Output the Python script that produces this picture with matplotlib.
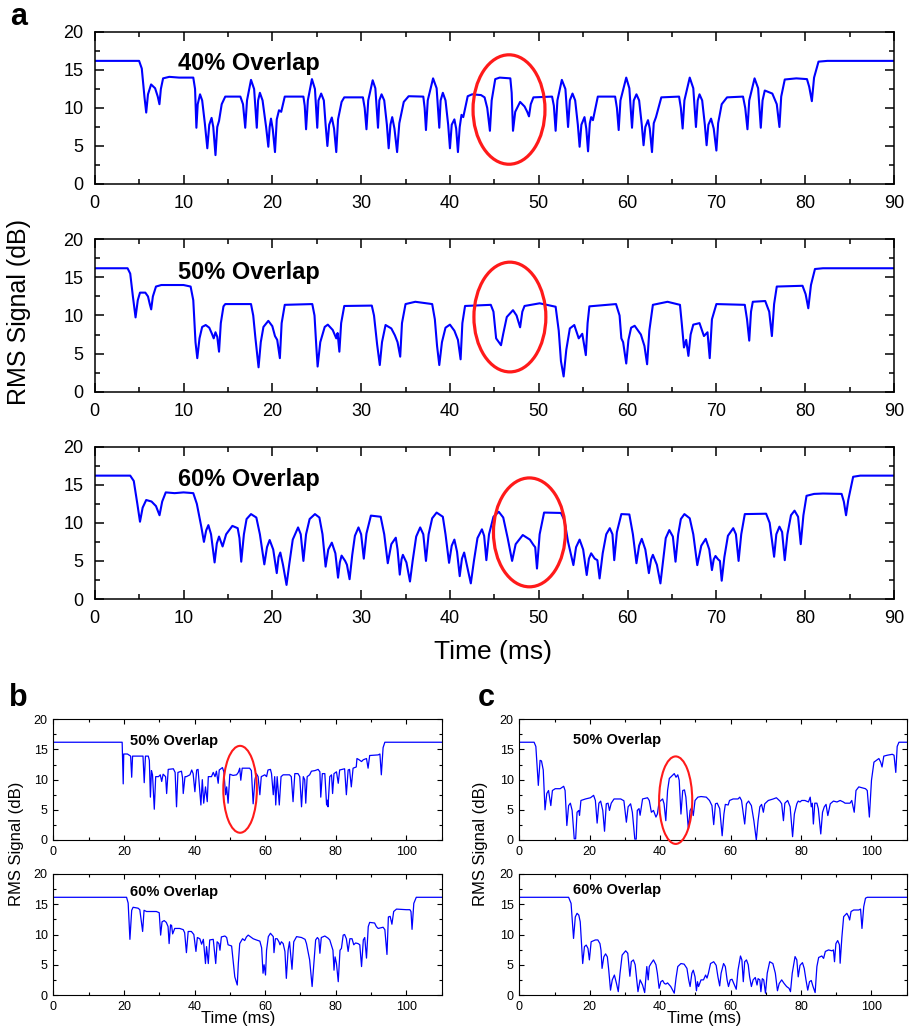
import numpy as np
import matplotlib
matplotlib.use('Agg')
from matplotlib import pyplot as plt
from matplotlib.patches import Ellipse
from matplotlib.ticker import MultipleLocator


# (time ms, RMS dB)
a40_points = [
    (0, 16.2), (5.0, 16.2), (5.3, 15.2), (5.6, 11.5), (5.8, 9.4), (6.0, 11.8), (6.35, 13.1), (6.8, 12.6),
    (7.1, 11.5), (7.29, 10.5), (7.45, 12.5), (7.7, 13.9), (8.4, 14.1), (9.5, 14.0), (11.1, 14.0), (11.3, 12.5),
    (11.45, 7.4), (11.6, 10.5), (11.86, 11.8), (12.1, 11.0), (12.4, 8.0), (12.68, 4.7), (12.9, 7.8), (13.16, 8.7),
    (13.35, 7.5), (13.6, 3.8), (13.8, 7.5), (14.0, 8.3), (14.3, 10.5), (14.7, 11.5), (16.4, 11.5), (16.7, 10.5),
    (16.95, 7.4), (17.15, 11.0), (17.6, 13.7), (17.95, 12.5), (18.25, 7.4), (18.4, 11.0), (18.6, 12.0), (18.9, 11.0),
    (19.3, 7.5), (19.55, 4.9), (19.7, 7.5), (19.85, 8.6), (20.05, 7.2), (20.3, 4.2), (20.5, 8.5), (20.75, 9.7),
    (21.0, 9.5), (21.4, 11.5), (23.5, 11.5), (23.65, 10.3), (23.8, 7.2), (24.0, 11.0), (24.46, 13.8), (24.8, 12.5),
    (25.06, 7.4), (25.2, 11.0), (25.5, 11.9), (25.8, 11.0), (26.0, 7.8), (26.2, 5.0), (26.4, 7.8), (26.7, 8.75),
    (26.95, 7.3), (27.2, 4.2), (27.4, 8.5), (27.8, 10.8), (28.1, 11.4), (30.2, 11.4), (30.4, 10.0), (30.6, 7.2),
    (30.8, 11.0), (31.3, 13.65), (31.6, 12.6), (31.9, 7.4), (32.05, 11.0), (32.3, 11.8), (32.6, 11.0), (32.9, 7.8),
    (33.1, 4.7), (33.3, 7.8), (33.5, 8.8), (33.75, 7.3), (34.05, 4.2), (34.3, 8.0), (34.8, 10.8), (35.35, 11.55),
    (37.0, 11.5), (37.15, 10.0), (37.3, 7.1), (37.5, 11.0), (38.1, 13.9), (38.5, 12.6), (38.8, 7.4), (38.95, 11.0),
    (39.2, 12.0), (39.5, 11.0), (39.8, 7.8), (40.0, 4.7), (40.2, 7.8), (40.5, 8.5), (40.7, 7.3), (40.9, 4.2),
    (41.1, 7.5), (41.3, 9.1), (41.5, 8.8), (42.0, 11.55), (42.5, 11.8), (43.5, 11.7), (43.9, 11.4), (44.2, 10.0),
    (44.5, 7.0), (44.7, 11.0), (45.1, 13.8), (45.6, 14.0), (46.8, 13.9), (46.95, 12.0), (47.1, 7.0), (47.35, 9.5),
    (47.9, 10.8), (48.4, 10.2), (48.7, 9.5), (48.9, 8.9), (49.1, 10.5), (49.4, 11.4), (51.5, 11.5), (51.7, 10.3),
    (51.9, 7.0), (52.1, 11.0), (52.6, 13.7), (53.0, 12.5), (53.3, 7.5), (53.5, 11.0), (53.8, 11.9), (54.1, 11.0),
    (54.4, 7.8), (54.6, 4.9), (54.8, 7.8), (55.15, 8.8), (55.35, 7.3), (55.55, 4.3), (55.75, 8.0), (55.9, 8.8),
    (56.1, 8.4), (56.65, 11.5), (58.6, 11.5), (58.8, 10.0), (59.0, 7.1), (59.2, 11.0), (59.85, 14.0), (60.2, 12.6),
    (60.5, 7.4), (60.7, 11.0), (61.0, 11.8), (61.3, 11.0), (61.6, 7.8), (61.8, 5.1), (62.0, 7.5), (62.3, 8.4),
    (62.5, 7.3), (62.75, 4.2), (62.95, 8.0), (63.2, 8.8), (63.8, 11.4), (65.8, 11.5), (66.0, 10.0), (66.2, 7.3),
    (66.4, 11.0), (67.0, 14.0), (67.4, 12.6), (67.7, 7.5), (67.9, 11.0), (68.1, 11.8), (68.4, 11.0), (68.7, 7.8),
    (68.9, 5.1), (69.1, 7.8), (69.4, 8.6), (69.7, 7.3), (70.0, 4.4), (70.2, 8.0), (70.6, 10.5), (71.2, 11.4),
    (73.0, 11.5), (73.25, 10.0), (73.5, 7.2), (73.7, 11.0), (74.3, 13.9), (74.7, 12.6), (75.0, 7.4), (75.2, 11.0),
    (75.45, 12.3), (76.3, 11.9), (76.8, 10.5), (77.1, 7.5), (77.3, 11.5), (77.7, 13.75), (79.0, 13.9), (80.2, 13.8),
    (80.45, 12.8), (80.75, 10.9), (81.0, 14.0), (81.5, 16.1), (82.5, 16.2), (90, 16.2),
]

a50_points = [
    (0, 16.2), (3.7, 16.2), (4.0, 15.5), (4.3, 12.5), (4.6, 9.75), (4.85, 12.0), (5.1, 13.0), (5.7, 13.0),
    (6.0, 12.5), (6.2, 11.5), (6.36, 10.8), (6.55, 12.5), (6.9, 13.8), (7.5, 14.0), (10.0, 14.0), (10.8, 13.8),
    (11.1, 12.0), (11.35, 6.5), (11.55, 4.4), (11.8, 7.0), (12.1, 8.5), (12.5, 8.75), (12.9, 8.4), (13.2, 7.6),
    (13.4, 7.0), (13.6, 7.8), (13.8, 7.2), (14.0, 5.25), (14.2, 9.0), (14.5, 11.2), (14.7, 11.5), (17.6, 11.5),
    (17.85, 10.0), (18.1, 7.0), (18.45, 3.2), (18.7, 6.5), (19.0, 8.5), (19.55, 9.3), (20.0, 8.6), (20.3, 7.3),
    (20.55, 6.8), (20.85, 4.4), (21.05, 9.0), (21.4, 11.4), (24.5, 11.5), (24.75, 10.0), (24.95, 6.0), (25.1, 3.3),
    (25.4, 6.5), (25.9, 8.5), (26.25, 8.8), (26.8, 8.1), (27.2, 7.0), (27.35, 7.7), (27.55, 5.25), (27.75, 9.0),
    (28.1, 11.25), (31.2, 11.3), (31.45, 10.0), (31.8, 6.2), (32.1, 3.5), (32.35, 6.5), (32.75, 8.75), (33.4, 8.3),
    (33.8, 7.4), (34.1, 6.5), (34.4, 4.6), (34.6, 9.0), (35.0, 11.5), (36.1, 11.8), (38.0, 11.5), (38.3, 9.5),
    (38.55, 6.0), (38.8, 3.5), (39.1, 6.5), (39.5, 8.4), (40.0, 8.8), (40.5, 8.0), (40.9, 6.8), (41.2, 4.25),
    (41.4, 9.0), (41.7, 11.25), (44.6, 11.4), (44.9, 10.5), (45.2, 7.0), (45.75, 6.1), (46.0, 7.6), (46.4, 9.8),
    (47.1, 10.7), (47.5, 10.0), (47.9, 8.45), (48.15, 10.5), (48.4, 11.25), (50.1, 11.6), (51.9, 11.15), (52.25, 8.0),
    (52.5, 4.0), (52.8, 2.0), (53.1, 5.5), (53.5, 8.3), (54.0, 8.75), (54.5, 7.0), (54.9, 7.6), (55.3, 4.8),
    (55.5, 9.0), (55.7, 11.2), (58.7, 11.5), (59.1, 10.0), (59.3, 7.0), (59.5, 6.5), (59.85, 3.7), (60.1, 6.8),
    (60.4, 8.4), (60.8, 8.65), (61.5, 7.5), (61.9, 6.0), (62.2, 3.6), (62.45, 8.0), (62.85, 11.4), (64.5, 11.8),
    (65.9, 11.4), (66.1, 9.0), (66.35, 5.8), (66.6, 6.8), (66.85, 4.7), (67.1, 7.5), (67.4, 8.8), (68.1, 9.0),
    (68.6, 7.3), (69.0, 7.8), (69.25, 4.4), (69.5, 9.5), (70.0, 11.5), (73.2, 11.4), (73.45, 9.5), (73.7, 6.7),
    (73.9, 10.5), (74.1, 11.8), (75.5, 11.9), (75.95, 10.5), (76.25, 7.3), (76.5, 11.5), (76.8, 13.8), (79.7, 13.9),
    (80.05, 12.8), (80.35, 10.95), (80.65, 14.0), (81.1, 16.1), (82.0, 16.2), (90, 16.2),
]

a60_points = [
    (0, 16.2), (4.0, 16.2), (4.4, 15.5), (4.8, 12.5), (5.1, 10.15), (5.4, 12.0), (5.8, 13.0), (6.4, 12.8),
    (6.9, 12.2), (7.3, 11.0), (7.6, 12.8), (8.0, 14.0), (9.0, 13.9), (10.0, 14.0), (11.1, 13.9), (11.5, 12.5),
    (12.0, 9.5), (12.3, 7.5), (12.55, 9.0), (12.8, 9.7), (13.1, 8.5), (13.5, 4.8), (13.75, 7.3), (14.0, 8.2),
    (14.25, 7.4), (14.4, 6.9), (14.8, 8.5), (15.5, 9.6), (16.1, 9.3), (16.3, 8.0), (16.5, 4.9), (16.8, 8.5),
    (17.1, 10.5), (17.6, 11.15), (18.2, 10.7), (18.6, 8.5), (19.1, 4.55), (19.4, 6.8), (19.7, 7.75), (20.1, 6.5),
    (20.5, 3.4), (20.7, 5.5), (20.9, 6.1), (21.2, 4.5), (21.6, 1.85), (21.9, 4.5), (22.3, 7.8), (22.9, 9.4),
    (23.2, 8.5), (23.5, 5.0), (23.8, 8.5), (24.2, 10.5), (24.8, 11.15), (25.3, 10.7), (25.65, 8.5), (26.0, 4.25),
    (26.3, 6.5), (26.7, 7.4), (27.1, 6.0), (27.4, 2.8), (27.6, 4.8), (27.8, 5.7), (28.2, 5.0), (28.4, 4.5),
    (28.7, 2.6), (29.0, 5.8), (29.3, 8.3), (29.7, 9.4), (30.0, 8.5), (30.3, 5.3), (30.6, 8.6), (31.1, 10.95),
    (32.2, 10.8), (32.6, 8.5), (33.0, 4.7), (33.4, 7.2), (33.9, 8.05), (34.1, 6.5), (34.35, 3.2), (34.55, 5.2),
    (34.7, 5.8), (35.1, 4.8), (35.5, 2.3), (35.8, 5.0), (36.2, 8.2), (36.65, 9.4), (37.0, 8.5), (37.3, 5.0),
    (37.6, 8.5), (38.0, 10.6), (38.5, 11.35), (39.2, 10.8), (39.5, 8.5), (39.9, 4.75), (40.2, 7.0), (40.5, 7.8),
    (40.8, 6.2), (41.1, 3.0), (41.35, 5.3), (41.6, 6.1), (41.9, 4.5), (42.35, 2.05), (42.7, 5.0), (43.1, 8.0),
    (43.6, 9.15), (43.85, 8.3), (44.1, 5.1), (44.4, 8.5), (44.9, 10.8), (45.5, 11.45), (46.0, 10.7), (46.5, 8.0),
    (47.0, 5.0), (47.4, 7.2), (48.2, 8.4), (49.0, 7.8), (49.4, 7.1), (49.6, 6.8), (49.8, 4.0), (50.1, 8.5),
    (50.6, 11.35), (52.5, 11.3), (52.9, 10.3), (53.3, 7.5), (53.9, 4.45), (54.2, 6.8), (54.6, 7.8), (55.0, 6.5),
    (55.4, 3.15), (55.65, 5.3), (55.9, 6.0), (56.3, 5.3), (56.6, 5.1), (56.85, 2.7), (57.2, 6.0), (57.6, 8.5),
    (58.0, 9.3), (58.3, 8.5), (58.5, 5.1), (58.8, 8.8), (59.3, 11.15), (60.2, 11.1), (60.6, 8.5), (61.0, 4.7),
    (61.3, 7.0), (61.6, 7.9), (62.0, 6.5), (62.4, 3.4), (62.65, 5.2), (62.85, 5.8), (63.3, 4.5), (63.7, 2.05),
    (64.0, 5.0), (64.3, 8.0), (64.7, 9.05), (65.1, 8.2), (65.4, 4.9), (65.7, 8.5), (66.0, 10.5), (66.4, 11.15),
    (67.0, 10.6), (67.4, 8.5), (67.85, 4.45), (68.3, 7.0), (68.8, 7.9), (69.2, 6.5), (69.5, 3.8), (69.7, 5.2),
    (69.9, 5.65), (70.2, 5.2), (70.4, 5.0), (70.6, 2.4), (70.9, 5.5), (71.3, 8.3), (71.9, 9.3), (72.2, 8.5),
    (72.5, 5.0), (72.8, 8.5), (73.2, 11.15), (75.6, 11.2), (76.0, 10.0), (76.5, 5.55), (76.75, 8.5), (77.1, 9.5),
    (77.4, 8.8), (77.7, 5.1), (78.0, 8.5), (78.4, 11.0), (78.8, 11.6), (79.2, 10.8), (79.5, 7.2), (79.8, 11.0),
    (80.15, 13.55), (81.0, 13.8), (82.0, 13.85), (84.1, 13.8), (84.35, 12.8), (84.6, 11.0), (84.85, 13.0), (85.4, 16.05),
    (86.2, 16.2), (90, 16.2),
]

b50_points = [
    (0, 16.2), (19.5, 16.2), (19.65, 13.0), (19.8, 9.3), (19.95, 14.25), (21.0, 14.25), (21.9, 13.9), (22.2, 10.4),
    (22.45, 13.9), (25.4, 13.9), (25.75, 9.5), (26.1, 13.9), (26.9, 13.9), (27.2, 13.2), (27.5, 7.1), (27.8, 11.5),
    (28.1, 10.8), (28.6, 5.1), (29.0, 10.5), (29.8, 10.5), (30.3, 10.8), (30.7, 9.7), (31.1, 10.9), (31.8, 10.5),
    (32.1, 7.7), (32.55, 11.7), (34.0, 11.8), (34.5, 11.2), (34.9, 5.5), (35.3, 11.2), (36.3, 11.4), (36.6, 10.3),
    (36.8, 7.7), (37.3, 10.5), (37.7, 10.5), (38.7, 10.8), (39.2, 11.6), (39.6, 11.0), (40.1, 8.0), (40.6, 11.6),
    (41.0, 11.7), (41.8, 5.8), (42.2, 10.0), (42.6, 6.1), (43.1, 8.8), (43.6, 6.35), (43.9, 10.5), (44.8, 10.5),
    (45.3, 11.2), (45.8, 10.5), (46.2, 11.4), (46.7, 9.4), (47.0, 11.6), (47.9, 12.0), (48.3, 11.3), (48.8, 7.5),
    (49.1, 8.8), (49.5, 6.1), (50.0, 10.9), (50.9, 10.7), (51.9, 10.8), (52.4, 11.2), (52.8, 11.9), (53.1, 9.9),
    (53.5, 11.9), (55.6, 11.9), (56.1, 11.5), (56.6, 6.0), (57.1, 10.0), (57.5, 11.0), (58.0, 10.5), (58.5, 7.5),
    (58.9, 10.5), (59.9, 10.8), (60.4, 10.5), (60.8, 11.6), (61.5, 11.7), (61.8, 11.0), (62.3, 7.5), (62.7, 10.5),
    (63.0, 5.8), (63.4, 10.5), (64.0, 5.8), (64.5, 10.5), (65.1, 10.8), (66.9, 10.8), (67.4, 10.5), (67.9, 6.35),
    (68.4, 11.0), (69.3, 11.0), (69.8, 10.5), (70.3, 5.5), (70.8, 10.5), (71.2, 10.0), (71.5, 6.1), (71.9, 10.5),
    (72.6, 10.8), (73.1, 11.4), (74.1, 11.5), (75.0, 11.7), (75.5, 11.3), (75.75, 7.1), (76.2, 11.0), (76.9, 11.0),
    (77.4, 5.8), (77.7, 6.6), (77.8, 5.5), (78.3, 10.5), (78.8, 10.8), (79.1, 7.7), (79.5, 11.0), (80.2, 11.3),
    (80.7, 9.4), (81.1, 11.6), (82.5, 11.8), (83.0, 7.5), (83.5, 11.6), (83.9, 11.7), (84.4, 8.8), (84.9, 11.9),
    (85.8, 12.1), (86.0, 13.5), (86.6, 13.3), (87.3, 13.0), (87.8, 13.3), (88.7, 13.5), (89.15, 11.9), (89.6, 14.0),
    (92.0, 14.1), (92.5, 14.25), (92.9, 10.8), (93.4, 15.3), (93.9, 16.2), (110, 16.2),
]

b60_points = [
    (0, 16.15), (20.75, 16.15), (21.2, 15.2), (21.7, 9.2), (22.2, 14.0), (22.6, 14.5), (24.0, 14.35), (24.5, 14.1),
    (25.3, 10.5), (25.7, 14.0), (26.4, 13.8), (29.2, 13.8), (30.0, 13.6), (30.4, 9.9), (30.8, 12.1), (31.4, 12.3),
    (32.0, 12.0), (32.5, 11.3), (32.8, 8.5), (33.2, 11.6), (33.5, 11.5), (33.8, 10.1), (34.4, 11.0), (35.8, 11.0),
    (36.8, 10.8), (37.2, 10.3), (37.7, 7.0), (38.2, 10.5), (39.1, 10.5), (39.8, 10.0), (40.4, 7.2), (40.8, 9.5),
    (41.5, 9.3), (42.0, 8.4), (42.5, 9.2), (43.1, 5.2), (43.4, 8.0), (43.9, 5.2), (44.3, 9.1), (45.3, 9.2),
    (46.0, 5.2), (46.4, 8.8), (46.9, 8.5), (47.2, 7.4), (47.6, 9.6), (48.6, 9.75), (49.1, 9.5), (49.5, 8.3),
    (50.5, 8.1), (51.4, 3.0), (52.1, 1.65), (52.4, 5.2), (52.8, 8.5), (53.6, 9.3), (54.2, 9.0), (54.7, 9.6),
    (55.2, 9.9), (56.6, 9.3), (57.5, 9.1), (58.5, 8.9), (59.0, 7.8), (59.4, 3.6), (59.7, 5.0), (60.1, 3.3),
    (60.4, 7.4), (60.9, 9.65), (61.5, 10.2), (62.3, 9.65), (62.5, 7.0), (62.9, 9.3), (63.4, 9.3), (63.9, 8.8),
    (64.2, 8.3), (64.6, 8.8), (65.1, 8.5), (65.6, 7.2), (66.0, 2.75), (66.5, 7.4), (66.9, 8.8), (67.6, 4.25),
    (68.1, 8.8), (68.9, 9.65), (70.3, 9.5), (71.3, 9.2), (71.7, 8.5), (72.6, 5.8), (73.3, 1.4), (73.8, 5.2),
    (74.3, 9.1), (74.8, 9.5), (75.2, 9.2), (75.5, 6.9), (75.9, 9.5), (76.9, 9.75), (77.8, 9.4), (78.3, 9.1),
    (79.2, 7.4), (79.5, 4.1), (79.8, 6.3), (80.2, 5.2), (80.7, 2.2), (81.2, 7.4), (81.6, 7.7), (82.1, 9.9),
    (82.5, 10.0), (83.0, 9.3), (83.5, 7.2), (84.0, 9.3), (84.6, 9.3), (85.1, 8.3), (85.6, 8.6), (86.3, 8.5),
    (86.8, 8.3), (87.3, 4.7), (87.8, 9.1), (88.2, 9.5), (88.7, 6.1), (89.2, 11.3), (89.6, 12.0), (91.0, 11.9),
    (91.5, 11.3), (92.0, 11.0), (93.4, 11.2), (93.9, 10.8), (94.5, 6.7), (94.9, 12.9), (95.4, 13.0), (95.9, 11.7),
    (96.4, 13.8), (97.2, 14.2), (100.0, 14.1), (101.0, 14.1), (101.3, 13.8), (101.6, 10.85), (102.1, 15.15),
    (102.8, 16.15), (110, 16.15),
]

c50_points = [
    (0, 16.2), (4.2, 16.2), (4.7, 15.5), (5.4, 9.05), (5.9, 13.2), (6.3, 13.1), (6.8, 11.6), (7.3, 5.0),
    (7.8, 7.7), (8.3, 8.2), (8.95, 5.7), (9.4, 8.2), (10.2, 8.5), (11.6, 8.5), (12.6, 8.9), (13.0, 8.2),
    (13.5, 2.4), (14.0, 5.7), (14.5, 6.1), (15.0, 4.9), (15.6, 0.2), (16.0, 0.2), (16.4, 4.6), (16.9, 4.9),
    (17.1, 4.1), (17.5, 6.55), (18.8, 6.8), (20.2, 7.0), (21.1, 7.4), (21.6, 6.55), (22.1, 2.8), (22.6, 6.1),
    (23.1, 6.45), (23.7, 4.9), (24.2, 1.45), (24.7, 6.0), (25.2, 6.1), (25.6, 4.9), (26.1, 6.1), (26.9, 6.8),
    (28.8, 6.8), (29.7, 6.5), (30.4, 2.95), (30.9, 5.5), (31.6, 6.0), (32.1, 4.6), (32.8, 0.15), (33.2, 0.15),
    (33.5, 4.9), (34.0, 5.2), (34.3, 4.1), (35.0, 6.8), (36.4, 7.0), (36.9, 6.55), (37.5, 4.6), (38.1, 4.9),
    (38.8, 3.8), (39.2, 4.3), (39.7, 6.3), (40.7, 6.8), (41.1, 6.0), (41.6, 3.2), (42.1, 8.2), (42.6, 10.2),
    (43.5, 10.7), (44.0, 11.0), (44.5, 10.4), (45.0, 10.8), (45.4, 9.9), (45.9, 4.3), (46.4, 8.2), (46.9, 8.3),
    (47.3, 7.1), (48.0, 1.8), (48.5, 4.9), (49.0, 5.4), (49.4, 4.05), (49.9, 6.55), (50.7, 7.1), (51.6, 7.2),
    (53.1, 7.1), (54.0, 6.55), (54.7, 5.7), (55.2, 2.55), (55.7, 6.0), (56.2, 6.1), (56.9, 5.2), (57.6, 0.7),
    (58.1, 4.3), (58.5, 5.9), (59.3, 5.8), (59.7, 6.55), (60.7, 6.8), (62.1, 6.8), (62.6, 7.1), (63.1, 6.55),
    (64.0, 2.65), (64.5, 6.0), (65.1, 6.45), (65.9, 5.7), (66.6, 3.2), (67.3, 0.0), (67.8, 3.2), (68.3, 5.5),
    (68.8, 5.9), (69.3, 4.6), (69.7, 6.0), (70.7, 6.55), (72.1, 6.8), (73.0, 7.0), (74.0, 6.45), (74.5, 6.0),
    (75.0, 3.2), (75.4, 6.1), (76.2, 6.55), (76.9, 5.5), (77.6, 0.55), (78.1, 4.3), (78.8, 6.0), (79.2, 6.45),
    (79.7, 6.3), (80.2, 6.55), (81.1, 6.55), (82.1, 6.3), (82.6, 7.1), (82.9, 5.5), (83.2, 6.1), (83.5, 2.65),
    (83.9, 6.1), (84.5, 6.1), (84.9, 5.2), (85.6, 1.0), (86.1, 4.6), (86.6, 5.5), (87.1, 5.9), (87.6, 4.05),
    (88.3, 6.0), (89.2, 6.45), (90.2, 6.3), (91.1, 6.55), (92.0, 6.3), (92.5, 6.1), (93.9, 6.1), (94.4, 6.55),
    (95.1, 4.6), (95.6, 8.2), (96.4, 8.8), (98.3, 8.5), (98.8, 8.2), (99.4, 3.8), (100.0, 9.9), (100.7, 12.9),
    (101.6, 13.3), (102.1, 13.5), (102.6, 12.9), (103.0, 12.1), (103.5, 13.9), (104.5, 14.05), (105.9, 14.2),
    (106.4, 14.05), (106.9, 11.2), (107.3, 15.5), (107.8, 16.2), (110, 16.2),
]

c60_points = [
    (0, 16.15), (14.0, 16.15), (14.7, 15.15), (15.4, 9.35), (15.9, 12.9), (16.4, 13.5), (16.9, 13.2), (17.3, 12.1),
    (18.0, 5.2), (18.5, 8.0), (19.0, 8.25), (19.5, 7.7), (19.9, 5.8), (20.4, 8.8), (21.6, 9.1), (22.3, 9.1),
    (22.9, 8.5), (23.2, 7.4), (23.5, 4.4), (24.0, 6.3), (24.5, 6.8), (25.0, 6.3), (25.4, 4.1), (25.9, 0.8),
    (26.4, 2.5), (27.0, 3.3), (27.6, 1.9), (28.1, 0.55), (28.6, 3.6), (29.2, 6.6), (30.2, 7.3), (30.8, 6.9),
    (31.1, 5.0), (31.4, 3.1), (31.8, 5.5), (32.4, 5.8), (32.9, 5.0), (33.4, 2.2), (33.7, 0.55), (34.3, 2.5),
    (35.0, 1.65), (35.6, 0.4), (36.2, 4.7), (36.6, 2.5), (36.9, 4.7), (37.4, 5.2), (38.1, 5.8), (38.8, 5.0),
    (39.2, 3.6), (39.7, 1.1), (40.2, 2.2), (40.7, 2.4), (41.2, 1.9), (41.6, 1.8), (42.1, 2.0), (43.0, 1.4),
    (44.0, 0.3), (44.5, 2.8), (45.0, 4.7), (45.9, 5.2), (46.8, 5.1), (47.6, 4.4), (48.1, 2.5), (48.5, 1.4),
    (49.0, 3.6), (49.4, 4.1), (49.9, 3.0), (50.3, 0.7), (50.6, 2.2), (50.9, 1.4), (51.6, 2.5), (52.3, 2.5),
    (52.9, 3.3), (53.3, 2.8), (53.7, 3.6), (54.3, 5.2), (55.2, 5.5), (55.9, 4.9), (56.4, 3.0), (56.9, 1.5),
    (57.3, 3.6), (58.0, 5.2), (58.5, 4.7), (59.0, 2.5), (59.4, 1.4), (59.9, 2.5), (60.4, 2.6), (60.9, 1.9),
    (61.6, 0.95), (62.1, 4.1), (62.8, 6.45), (63.2, 5.8), (63.6, 2.2), (64.0, 5.5), (64.5, 5.8), (65.0, 5.0),
    (65.4, 3.0), (65.9, 1.4), (66.4, 2.5), (67.0, 2.9), (67.5, 1.65), (67.8, 2.7), (68.3, 2.5), (68.6, 0.55),
    (69.0, 2.7), (69.4, 2.5), (69.9, 0.3), (70.4, 3.6), (71.1, 5.5), (72.0, 5.2), (72.7, 3.6), (73.3, 0.7),
    (73.8, 1.9), (74.5, 2.5), (75.2, 1.9), (75.9, 1.4), (76.6, 1.1), (77.0, 0.55), (77.5, 3.6), (78.3, 6.35),
    (78.8, 5.8), (79.2, 3.0), (79.7, 4.9), (80.4, 5.35), (80.9, 4.4), (81.4, 2.5), (81.9, 0.8), (82.4, 2.2),
    (82.9, 2.4), (83.4, 1.4), (84.0, 0.4), (84.5, 4.7), (85.0, 6.2), (85.9, 6.45), (86.4, 6.05), (86.9, 7.2),
    (87.8, 7.45), (88.8, 7.3), (89.2, 7.45), (89.5, 5.5), (89.9, 8.5), (90.4, 9.0), (90.9, 8.3), (91.1, 5.25),
    (91.6, 9.6), (92.1, 12.95), (93.0, 13.5), (93.5, 12.95), (93.8, 12.4), (94.2, 13.8), (94.95, 14.05),
    (96.4, 14.05), (96.9, 14.2), (97.3, 11.0), (97.8, 14.6), (98.3, 16.0), (98.8, 16.15), (110, 16.15),
]

overlap_labels = ['40% Overlap', '50% Overlap', '60% Overlap']

# red marker ellipses: (centre t, centre dB, width ms, height dB)
a40_ellipse = (46.65, 9.8, 8.1, 14.4)
a50_ellipse = (46.75, 9.8, 8.1, 14.4)
a60_ellipse = (48.95, 8.75, 8.1, 14.3)
b50_ellipse = (52.9, 8.4, 9.5, 14.4)
c50_ellipse = (44.4, 6.6, 9.4, 14.5)

FIG_W, FIG_H = 911, 1030
BLUE = '#0000ff'
RED = '#ff1a1a'

plt.rcParams['font.family'] = ['Liberation Sans', 'DejaVu Sans']


def px_box(left, top, right, bottom):
    """Axes rect from pixel edges of the reference."""
    return [left / FIG_W, 1 - bottom / FIG_H, (right - left) / FIG_W, (bottom - top) / FIG_H]


def style_axis(ax, xmax, xmajor, xminor, labelsize, spine_width, major_len, minor_len, pad):
    ax.set_xlim(0, xmax)
    ax.set_ylim(0, 20)
    ax.xaxis.set_major_locator(MultipleLocator(xmajor))
    ax.xaxis.set_minor_locator(MultipleLocator(xminor))
    ax.yaxis.set_major_locator(MultipleLocator(5))
    ax.yaxis.set_minor_locator(MultipleLocator(2.5))
    ax.tick_params(which='both', direction='in', top=True, right=True,
                   width=spine_width, labelsize=labelsize, pad=pad)
    ax.tick_params(which='major', length=major_len)
    ax.tick_params(which='minor', length=minor_len)
    for spine in ax.spines.values():
        spine.set_linewidth(spine_width)


def draw_trace(ax, points, lw):
    t, v = np.array(points).T
    ax.plot(t, v, color=BLUE, lw=lw, solid_joinstyle='round')


def draw_ellipse(ax, ellipse, lw):
    cx, cy, w, h = ellipse
    ax.add_patch(Ellipse((cx, cy), w, h, fill=False, edgecolor=RED, lw=lw, clip_on=False, zorder=5))


def main():
    fig = plt.figure(figsize=(FIG_W / 100, FIG_H / 100), dpi=100)

    # panel a
    a_boxes = [(94.7, 32, 894, 184), (94.7, 239.3, 894, 391.7), (94.7, 446.7, 894, 599)]
    a_traces = [a40_points, a50_points, a60_points]
    a_ellipses = [a40_ellipse, a50_ellipse, a60_ellipse]
    a_text_y = [15.8, 15.7, 15.65]
    for box, pts, ell, label, ty in zip(a_boxes, a_traces, a_ellipses, overlap_labels, a_text_y):
        ax = fig.add_axes(px_box(*box))
        style_axis(ax, 90, 10, 5, 13, 1.1, 6.5, 3.5, 8)
        draw_trace(ax, pts, 1.5)
        draw_ellipse(ax, ell, 2.3)
        ax.text(9.4, ty, label, fontsize=17, fontweight='bold', va='center', ha='left')

    fig.text(19 / FIG_W, 1 - 312 / FIG_H, 'RMS Signal (dB)', rotation=90,
             ha='center', va='center', fontsize=18)
    fig.text(493 / FIG_W, 1 - 652 / FIG_H, 'Time (ms)', ha='center', va='center', fontsize=19)
    fig.text(19 / FIG_W, 1 - 17 / FIG_H, 'a', ha='center', va='center', fontsize=22, fontweight='bold')

    # panels b and c
    small = [
        ('b', 53.3, 441.7, [b50_points, b60_points], b50_ellipse, 21.7, [16.4, 17.1], 18, 17),
        ('c', 519.3, 906.7, [c50_points, c60_points], c50_ellipse, 15.3, [16.6, 17.35], 486, 481),
    ]
    rows = [(719.3, 840), (874, 995)]
    for letter, left, right, traces, ell, tx, tys, letter_x, ylab_x in small:
        for i, ((top, bottom), pts, ty) in enumerate(zip(rows, traces, tys)):
            ax = fig.add_axes(px_box(left, top, right, bottom))
            style_axis(ax, 110, 20, 10, 9, 0.8, 3.5, 2, 4)
            draw_trace(ax, pts, 0.9)
            if i == 0:
                draw_ellipse(ax, ell, 1.5)
            ax.text(tx, ty, overlap_labels[i + 1], fontsize=10.5, fontweight='bold',
                    va='center', ha='left')
        fig.text(ylab_x / FIG_W, 1 - 844 / FIG_H, 'RMS Signal (dB)', rotation=90,
                 ha='center', va='center', fontsize=12)
        fig.text((left + right) / 2 / FIG_W - 0.01, 1 - 1019 / FIG_H, 'Time (ms)',
                 ha='center', va='center', fontsize=12)
        fig.text(letter_x / FIG_W, 1 - 698 / FIG_H, letter, ha='center', va='center',
                 fontsize=22, fontweight='bold')

    fig.savefig('out.png', dpi=100)


if __name__ == '__main__':
    main()
